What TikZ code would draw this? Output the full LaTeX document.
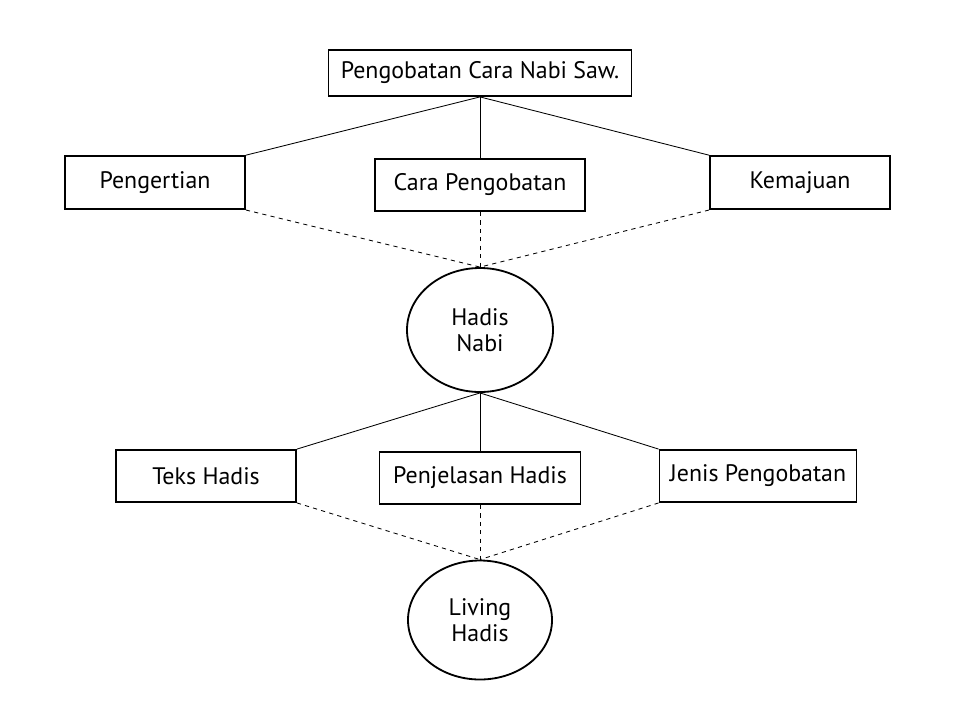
\documentclass[tikz,border=0pt]{standalone}
\usepackage{fontspec}
\setmainfont{PT Sans}
\usepackage{tikz}
\usetikzlibrary{positioning, shapes.geometric}

\tikzset{
    topic/.style={rectangle, draw, line width=1.3pt, minimum height=1.3cm, inner sep=2pt},
    hub/.style={ellipse, draw, line width=1.3pt, align=center, inner sep=0pt},
    link/.style={line width=0.6pt},
    weak/.style={line width=0.6pt, dashed}
}

\begin{document}
\begin{tikzpicture}[font=\fontsize{17}{18.5}\selectfont]
    \useasboundingbox (0,0) rectangle (24,-18);
    \node (judul) [topic, minimum width=7.575cm, minimum height=1.15cm] at (12,-1.825) {Pengobatan Cara Nabi Saw.};
    \node (cara) [topic, minimum width=5.25cm, below of=judul, node distance=2.8cm] {Cara Pengobatan};
    \node (pengertian) [topic, minimum width=4.5cm, minimum height=1.325cm, left of=cara, node distance=8.125cm, yshift=0.06cm] {Pengertian};
    \node (kemajuan) [topic, minimum width=4.5cm, minimum height=1.325cm, right of=cara, node distance=8cm, yshift=0.06cm] {Kemajuan};
    \node (hadis) [hub, minimum width=3.65cm, minimum height=3.1cm, below of=cara, node distance=3.625cm] {Hadis\\Nabi};

    \node (penjelasan) [topic, minimum width=5.025cm, below of=hadis, node distance=3.7cm] {Penjelasan Hadis};
    \node (teks) [topic, minimum width=4.5cm, left of=penjelasan, node distance=6.85cm, yshift=0.05cm] {Teks Hadis};
    \node (jenis) [topic, minimum width=4.925cm, right of=penjelasan, node distance=6.95cm, yshift=0.05cm] {Jenis Pengobatan};
    \node (living) [hub, minimum width=3.6cm, minimum height=2.975cm, below of=penjelasan, node distance=3.55cm] {Living\\Hadis};

    % upper tree
    \draw[link] (judul.south) -- (pengertian.north east);
    \draw[link] (judul.south) -- (cara.north);
    \draw[link] (judul.south) -- (kemajuan.north west);
    \draw[weak] (pengertian.south east) -- (hadis.north);
    \draw[weak] (cara.south) -- (hadis.north);
    \draw[weak] (kemajuan.south west) -- (hadis.north);

    % lower tree
    \draw[link] (hadis.south) -- (teks.north east);
    \draw[link] (hadis.south) -- (penjelasan.north);
    \draw[link] (hadis.south) -- (jenis.north west);
    \draw[weak] (teks.south east) -- (living.north);
    \draw[weak] (penjelasan.south) -- (living.north);
    \draw[weak] (jenis.south west) -- (living.north);
\end{tikzpicture}
\end{document}
